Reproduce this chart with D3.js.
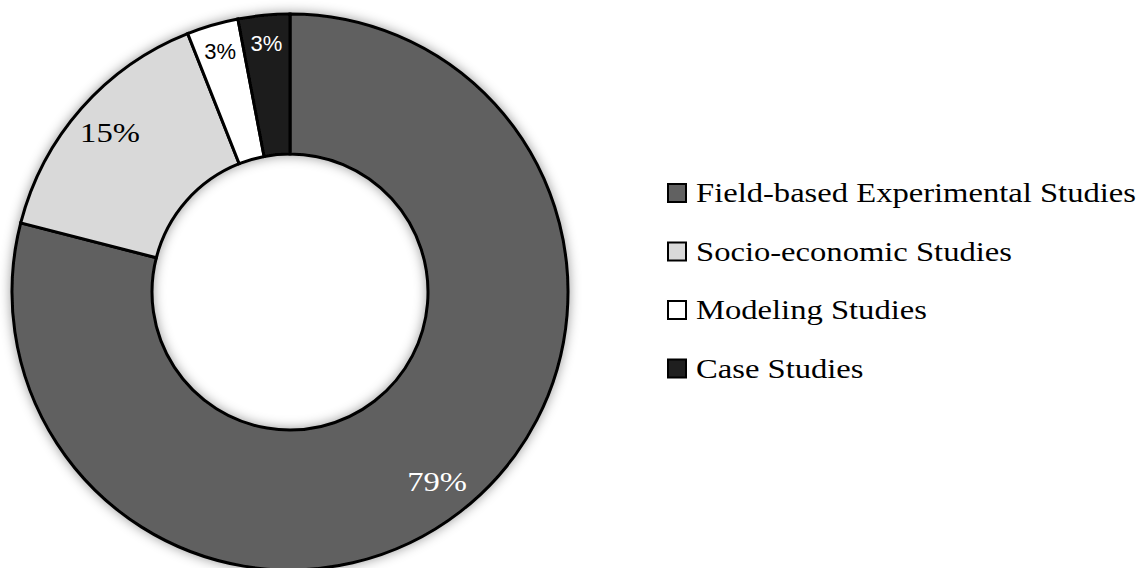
<!DOCTYPE html>
<html>
<head>
<meta charset="utf-8">
<script src="https://cdn.jsdelivr.net/npm/d3@7"></script>
<style>
  html, body { margin: 0; padding: 0; background: #ffffff; }
  svg { display: block; }
</style>
</head>
<body>
<svg id="chart" width="1148" height="568"></svg>
<script>
// Share of reviewed studies by study type
const categories = [
  "Field-based Experimental Studies",
  "Socio-economic Studies",
  "Modeling Studies",
  "Case Studies"
];
const shares = [79, 15, 3, 3];
const shareLabels = ["79%", "15%", "3%", "3%"];
const fills = ["#616161", "#d9d9d9", "#ffffff", "#1f1f1f"];
const labelColors = ["#ffffff", "#000000", "#000000", "#ffffff"];

const W = 1148, H = 568;
const cx = 290, cy = 292;
const outerR = 278, innerR = 138;
// Book-style serif is wider than the available Times-metric face
const serifStretch = 1.165;
const serifFont = "'Liberation Serif', 'DejaVu Serif', serif";
const sansFont = "'Liberation Sans', Arial, sans-serif";

const svg = d3.select("#chart");

const defs = svg.append("defs");
const shadow = defs.append("filter")
  .attr("id", "soft-shadow")
  .attr("x", "-10%").attr("y", "-10%")
  .attr("width", "120%").attr("height", "120%");
shadow.append("feDropShadow")
  .attr("dx", 0).attr("dy", 0)
  .attr("stdDeviation", 6)
  .attr("flood-color", "#000")
  .attr("flood-opacity", 0.4);

const data = categories.map((c, i) => ({
  name: c, value: shares[i], label: shareLabels[i],
  fill: fills[i], textColor: labelColors[i], idx: i
}));

const pie = d3.pie().sort(null).value(d => d.value);
const arcs = pie(data);

const arc = d3.arc().innerRadius(innerR).outerRadius(outerR);

const g = svg.append("g").attr("transform", `translate(${cx},${cy})`);

const ring = g.append("g").attr("filter", "url(#soft-shadow)");
ring.selectAll("path")
  .data(arcs)
  .join("path")
  .attr("d", arc)
  .attr("fill", d => d.data.fill)
  .attr("stroke", "#000")
  .attr("stroke-width", 3)
  .attr("stroke-linejoin", "miter");

// Percentage labels sit in the outer part of each slice
const labelArcWide = d3.arc().innerRadius(240).outerRadius(240);
const labelArcNarrow = d3.arc().innerRadius(250).outerRadius(250);

g.selectAll("text.pct")
  .data(arcs)
  .join("text")
  .attr("class", "pct")
  .attr("transform", d => {
    const small = d.data.value < 5;
    const [x, y] = (small ? labelArcNarrow : labelArcWide).centroid(d);
    return `translate(${x},${y})` + (small ? "" : ` scale(${serifStretch},1)`);
  })
  .attr("text-anchor", "middle")
  .attr("dominant-baseline", "central")
  .attr("fill", d => d.data.textColor)
  .style("font-family", d => d.data.value < 5 ? sansFont : serifFont)
  .style("font-size", d => d.data.value < 5 ? "22px" : "28px")
  .text(d => d.data.label);

// Legend
const legend = svg.append("g").attr("transform", "translate(667,183)");
const rowStep = 58.5;
const rows = legend.selectAll("g.row")
  .data(data)
  .join("g")
  .attr("class", "row")
  .attr("transform", (d, i) => `translate(0,${i * rowStep})`);

rows.append("rect")
  .attr("x", 1).attr("y", 1)
  .attr("width", 18).attr("height", 18)
  .attr("fill", d => d.fill)
  .attr("stroke", "#000")
  .attr("stroke-width", 2);

rows.append("text")
  .attr("transform", `translate(29,19) scale(${serifStretch},1)`)
  .attr("fill", "#000")
  .style("font-family", serifFont)
  .style("font-size", "28px")
  .text(d => d.name);
</script>
</body>
</html>
